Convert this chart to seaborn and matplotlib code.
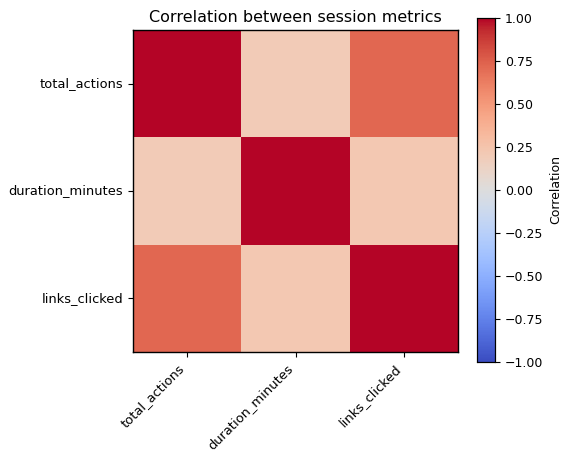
import numpy as np
import pandas as pd
import matplotlib
matplotlib.use("Agg")
import matplotlib.pyplot as plt
import seaborn as sns

metrics = ["total_actions", "duration_minutes", "links_clicked"]
row_total_actions = [1.00, 0.20, 0.72]
row_duration_minutes = [0.20, 1.00, 0.22]
row_links_clicked = [0.72, 0.22, 1.00]

corr = pd.DataFrame([row_total_actions, row_duration_minutes, row_links_clicked],
                    index=metrics, columns=metrics)

fig = plt.figure(figsize=(5.71, 4.62), dpi=100)
ax = fig.add_axes([133 / 571, 1 - 352 / 462, 325 / 571, 322 / 462])
cax = fig.add_axes([477 / 571, 1 - 362 / 462, 18 / 571, 344 / 462])

sns.heatmap(corr, ax=ax, cbar_ax=cax, cmap="coolwarm", vmin=-1, vmax=1,
            square=False, cbar_kws={"label": "Correlation"})

for s in ax.spines.values():
    s.set_visible(True)
    s.set_linewidth(1.0)
    s.set_color("black")

ax.set_title("Correlation between session metrics", fontsize=11.5)
ax.set_xticklabels(metrics, rotation=45, ha="right", fontsize=9.4)
ax.set_yticklabels(metrics, rotation=0, fontsize=9.4)
ax.tick_params(axis="both", length=3.5, width=0.8)
ax.set_xlabel("")
ax.set_ylabel("")

cax.set_yticks([-1, -0.75, -0.5, -0.25, 0, 0.25, 0.5, 0.75, 1])
cax.tick_params(labelsize=9, length=3.5, width=0.8)
cax.yaxis.label.set_size(9)
for s in cax.spines.values():
    s.set_visible(True)
    s.set_linewidth(0.8)

fig.savefig("out.png", dpi=100)
